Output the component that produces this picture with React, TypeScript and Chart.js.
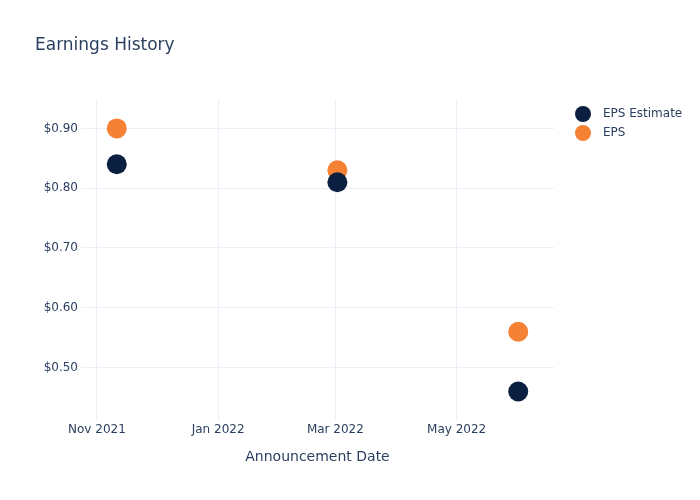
import React, { useEffect, useRef } from "react";
import { Chart, registerables } from "chart.js";

Chart.register(...registerables);

const announcementDates = ["2021-11-11", "2022-03-02", "2022-06-01"];
const epsEstimate = [0.84, 0.81, 0.46];
const epsActual = [0.9, 0.83, 0.56];
const xTickDates = ["2021-11-01", "2022-01-01", "2022-03-01", "2022-05-01"];
const yTickValues = [0.5, 0.6, 0.7, 0.8, 0.9];
const seriesNames = ["EPS Estimate", "EPS"];
const seriesColors = ["#0b1f40", "#f58134"];
const MONTHS = ["Jan", "Feb", "Mar", "Apr", "May", "Jun", "Jul", "Aug", "Sep", "Oct", "Nov", "Dec"];

const toMs = (s: string) => {
  const [y, m, d] = s.split("-").map(Number);
  return Date.UTC(y, m - 1, d);
};
const fmtMonth = (v: number) => {
  const d = new Date(v);
  return MONTHS[d.getUTCMonth()] + " " + d.getUTCFullYear();
};

const FONT = "'DejaVu Sans', 'Open Sans', sans-serif";
const TEXT = "#2a3f5f";
const GRID = "#ebf0f8";

const legendPlugin = {
  id: "customLegend",
  afterDraw(chart: any) {
    const ctx = chart.ctx;
    ctx.save();
    seriesNames.forEach((name, i) => {
      const y = 114 + i * 19;
      ctx.beginPath();
      ctx.fillStyle = seriesColors[i];
      ctx.arc(583, y, 8, 0, Math.PI * 2);
      ctx.fill();
      ctx.fillStyle = TEXT;
      ctx.font = "12px " + FONT;
      ctx.textBaseline = "middle";
      ctx.textAlign = "left";
      ctx.fillText(name, 603, y);
    });
    ctx.restore();
  },
};

export default function App() {
  const ref = useRef<HTMLCanvasElement | null>(null);
  useEffect(() => {
    if (!ref.current) return;
    const xs = announcementDates.map(toMs);
    const chart = new Chart(ref.current, {
      type: "scatter",
      data: {
        datasets: [
          {
            label: seriesNames[0],
            data: xs.map((x, i) => ({ x, y: epsEstimate[i] })),
            backgroundColor: seriesColors[0],
            borderColor: seriesColors[0],
            borderWidth: 0,
            pointRadius: 10,
            pointHoverRadius: 10,
          },
          {
            label: seriesNames[1],
            data: xs.map((x, i) => ({ x, y: epsActual[i] })),
            backgroundColor: seriesColors[1],
            borderColor: seriesColors[1],
            borderWidth: 0,
            pointRadius: 10,
            pointHoverRadius: 10,
          },
        ],
      },
      options: {
        animation: false,
        responsive: false,
        maintainAspectRatio: false,
        layout: { padding: { left: 35, right: 146, top: 0, bottom: 34 } },
        plugins: {
          legend: { display: false },
          tooltip: { enabled: false },
          title: {
            display: true,
            text: "Earnings History",
            align: "start",
            color: TEXT,
            font: { family: FONT, size: 17, weight: "normal" },
            padding: { top: 35, bottom: 44 },
          },
        },
        scales: {
          x: {
            type: "linear",
            min: toMs("2021-10-24"),
            max: toMs("2022-06-19"),
            afterBuildTicks(axis: any) {
              axis.ticks = xTickDates.map((d) => ({ value: toMs(d) }));
            },
            ticks: {
              callback: (v: any) => fmtMonth(Number(v)),
              autoSkip: false,
              maxRotation: 0,
              color: TEXT,
              font: { family: FONT, size: 12 },
              padding: 1.5,
            },
            grid: { color: GRID, drawTicks: false },
            border: { display: false },
            title: {
              display: true,
              text: "Announcement Date",
              color: TEXT,
              font: { family: FONT, size: 14 },
              padding: { top: 11, bottom: 0 },
            },
          },
          y: {
            type: "linear",
            min: 0.411,
            max: 0.9485,
            afterBuildTicks(axis: any) {
              axis.ticks = yTickValues.map((v) => ({ value: v }));
            },
            afterFit(axis: any) {
              axis.width = 46;
            },
            ticks: {
              callback: (v: any) => "$" + Number(v).toFixed(2),
              color: TEXT,
              font: { family: FONT, size: 12 },
              padding: 3,
            },
            grid: { color: GRID, drawTicks: false },
            border: { display: false },
          },
        },
      },
      plugins: [legendPlugin],
    });
    return () => chart.destroy();
  }, []);
  return (
    <div style={{ position: "fixed", left: 0, top: 0, width: 700, height: 500, background: "#fff" }}>
      <canvas ref={ref} width={700} height={500} style={{ width: 700, height: 500 }} />
    </div>
  );
}
